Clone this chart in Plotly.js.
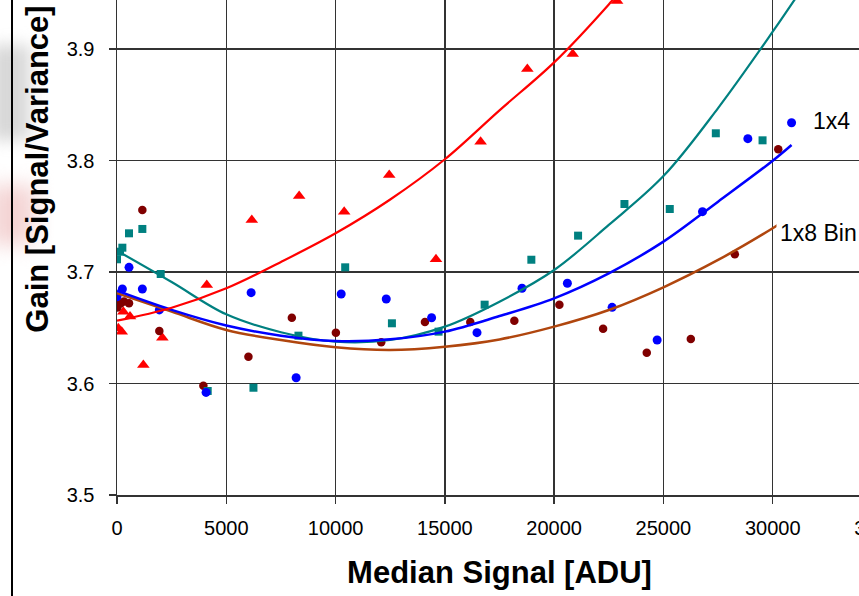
<!DOCTYPE html>
<html>
<head>
<meta charset="utf-8">
<script src="https://cdn.plot.ly/plotly-3.0.1.min.js"></script>
<style>
  html, body { margin:0; padding:0; width:859px; height:596px; overflow:hidden; background:#ffffff; position:relative; }
  #smudge1 { position:absolute; left:-10px; top:45px; width:40px; height:95px; background:#d8d8d8; filter:blur(8px); }
  #smudge2 { position:absolute; left:-10px; top:185px; width:45px; height:60px; background:#f4d4d4; filter:blur(10px); }
  #border { position:absolute; left:11px; top:0; width:2px; height:596px; background:#000; }
  #chart { position:absolute; left:0; top:-157px; width:1000px; height:753px; }
</style>
</head>
<body>
<div id="smudge1"></div>
<div id="smudge2"></div>
<div id="border"></div>
<div id="chart"></div>
<script>
// ---- data ----
const redX = [60, 215, 290, 595, 1205, 2075, 4107, 6168, 8334, 10394, 12455, 14594, 16636, 18773, 20849, 22880];
const redY = [3.6495, 3.6465, 3.6644, 3.660, 3.6166, 3.6411, 3.6883, 3.7466, 3.7682, 3.7541, 3.787, 3.7114, 3.8169, 3.882, 3.8955, 3.943];

const tealX = [0, 137, 245, 550, 1160, 2000, 4150, 6243, 8302, 10440, 12578, 14712, 16820, 18957, 21095, 23216, 25290, 27397, 29535];
const tealY = [3.7114, 3.7182, 3.7218, 3.7347, 3.7386, 3.6982, 3.5933, 3.5962, 3.6429, 3.7042, 3.654, 3.6465, 3.6707, 3.711, 3.7326, 3.761, 3.7565, 3.8244, 3.8181];

const blueX = [0, 245, 550, 1160, 1937, 4075, 6137, 8196, 10257, 12318, 14393, 16470, 18530, 20606, 22652, 24713, 26787, 28862, 30862];
const blueY = [3.6778, 3.6848, 3.7042, 3.6848, 3.666, 3.592, 3.6815, 3.6052, 3.6803, 3.6758, 3.659, 3.6456, 3.6854, 3.6899, 3.6683, 3.639, 3.7541, 3.8196, 3.8339];

const maroonX = [15, 160, 320, 550, 1160, 1937, 3952, 6013, 7999, 10014, 12089, 14089, 16164, 18179, 20240, 22240, 24238, 26253, 28267, 30253];
const maroonY = [3.6682, 3.6717, 3.6735, 3.6719, 3.7556, 3.6471, 3.598, 3.624, 3.659, 3.6456, 3.637, 3.6552, 3.6552, 3.6563, 3.6707, 3.6492, 3.6276, 3.6399, 3.7159, 3.810];

// trendlines
const redFitX = [0, 2500, 5000, 7500, 10000, 12500, 15000, 17500, 20000, 22500, 24000];
const redFitY = [3.6563, 3.668, 3.6854, 3.709, 3.7347, 3.765, 3.8011, 3.845, 3.888, 3.940, 3.975];

const tealFitX = [0, 2500, 5000, 7500, 10000, 12500, 15000, 17500, 20000, 22500, 25000, 27500, 30000, 31200];
const tealFitY = [3.7191, 3.6910, 3.662, 3.646, 3.6375, 3.639, 3.651, 3.6734, 3.7018, 3.7422, 3.786, 3.847, 3.9155, 3.950];

const blueFitX = [0, 2500, 5000, 7500, 10000, 12500, 15000, 17500, 20000, 22500, 25000, 27500, 30000, 30862];
const blueFitY = [3.6832, 3.666, 3.652, 3.6429, 3.6381, 3.6396, 3.6465, 3.6605, 3.6764, 3.6988, 3.7272, 3.7631, 3.7998, 3.8139];

const brownFitX = [0, 2500, 5000, 7500, 10000, 12500, 15000, 17500, 20000, 22500, 25000, 27500, 30000, 30300];
const brownFitY = [3.6809, 3.6644, 3.648, 3.639, 3.6325, 3.630, 3.633, 3.6395, 3.651, 3.6659, 3.6863, 3.7108, 3.7392, 3.743];

const xTicks = [0, 5000, 10000, 15000, 20000, 25000, 30000, 35000];
const yTicks = [3.5, 3.6, 3.7, 3.8, 3.9, 4.0];

const label4 = "1x4";
const label8 = "1x8 Bin";

// ---- traces ----
const FONT = "Liberation Sans, Arial, sans-serif";
const traces = [
  {x: redX, y: redY, mode: 'markers', type: 'scatter',
   marker: {symbol: 'triangle-up', size: 11, color: '#ff0000'}},
  {x: maroonX, y: maroonY, mode: 'markers', type: 'scatter',
   marker: {symbol: 'circle', size: 8.5, color: '#800000'}},
  {x: tealX, y: tealY, mode: 'markers', type: 'scatter',
   marker: {symbol: 'square', size: 8, color: '#008080'}},
  {x: blueX, y: blueY, mode: 'markers', type: 'scatter',
   marker: {symbol: 'circle', size: 9, color: '#0000ff'}},
  {x: brownFitX, y: brownFitY, mode: 'lines', type: 'scatter',
   line: {color: '#b0460e', width: 2.5, shape: 'spline', smoothing: 1}},
  {x: tealFitX, y: tealFitY, mode: 'lines', type: 'scatter',
   line: {color: '#008080', width: 2.2, shape: 'spline', smoothing: 1}},
  {x: blueFitX, y: blueFitY, mode: 'lines', type: 'scatter',
   line: {color: '#0000ff', width: 2.5, shape: 'spline', smoothing: 1}},
  {x: redFitX, y: redFitY, mode: 'lines', type: 'scatter',
   line: {color: '#ff0000', width: 2.2, shape: 'spline', smoothing: 1}}
];

const layout = {
  width: 1000, height: 753,
  margin: {l: 117, r: 118, t: 0, b: 101, pad: 0},
  paper_bgcolor: 'rgba(0,0,0,0)',
  plot_bgcolor: '#ffffff',
  showlegend: false,
  font: {family: FONT, color: '#000', size: 20},
  xaxis: {
    range: [0, 35000], tickvals: xTicks, ticktext: xTicks.map(String),
    ticks: 'outside', ticklen: 7, tickwidth: 1.5, tickcolor: '#333',
    showgrid: true, gridcolor: '#333', gridwidth: 1.5,
    showline: true, linecolor: '#333', linewidth: 1.5,
    zeroline: false, ticklabelstandoff: 7,
    tickfont: {family: FONT, size: 20, color: '#000'},
    title: {text: 'Median Signal [ADU]', standoff: 24,
            font: {family: FONT, size: 31, color: '#000', weight: 'bold'}}
  },
  yaxis: {
    range: [3.5, 3.5 + 652/1115], tickvals: yTicks, ticktext: yTicks.map(v => v.toFixed(1)),
    ticks: 'outside', ticklen: 7, tickwidth: 1.5, tickcolor: '#333',
    showgrid: true, gridcolor: '#333', gridwidth: 1.5,
    showline: true, linecolor: '#333', linewidth: 1.5,
    zeroline: false, ticklabelstandoff: 10,
    tickfont: {family: FONT, size: 20, color: '#000'},
    title: {text: 'Gain [Signal/Variance]', standoff: 9,
            font: {family: FONT, size: 31, color: '#000', weight: 'bold'}}
  },
  annotations: [
    {xref: 'x', yref: 'y', x: 31700, y: 3.8354, text: label4, showarrow: false,
     xanchor: 'left', yanchor: 'middle', font: {family: FONT, size: 23, color: '#000'},
     bgcolor: '#ffffff', borderpad: 2},
    {xref: 'x', yref: 'y', x: 30140, y: 3.735, text: label8, showarrow: false,
     xanchor: 'left', yanchor: 'middle', font: {family: FONT, size: 23, color: '#000'},
     bgcolor: '#ffffff', borderpad: 3}
  ]
};

Plotly.newPlot('chart', traces, layout, {displayModeBar: false, staticPlot: true});
</script>
</body>
</html>
